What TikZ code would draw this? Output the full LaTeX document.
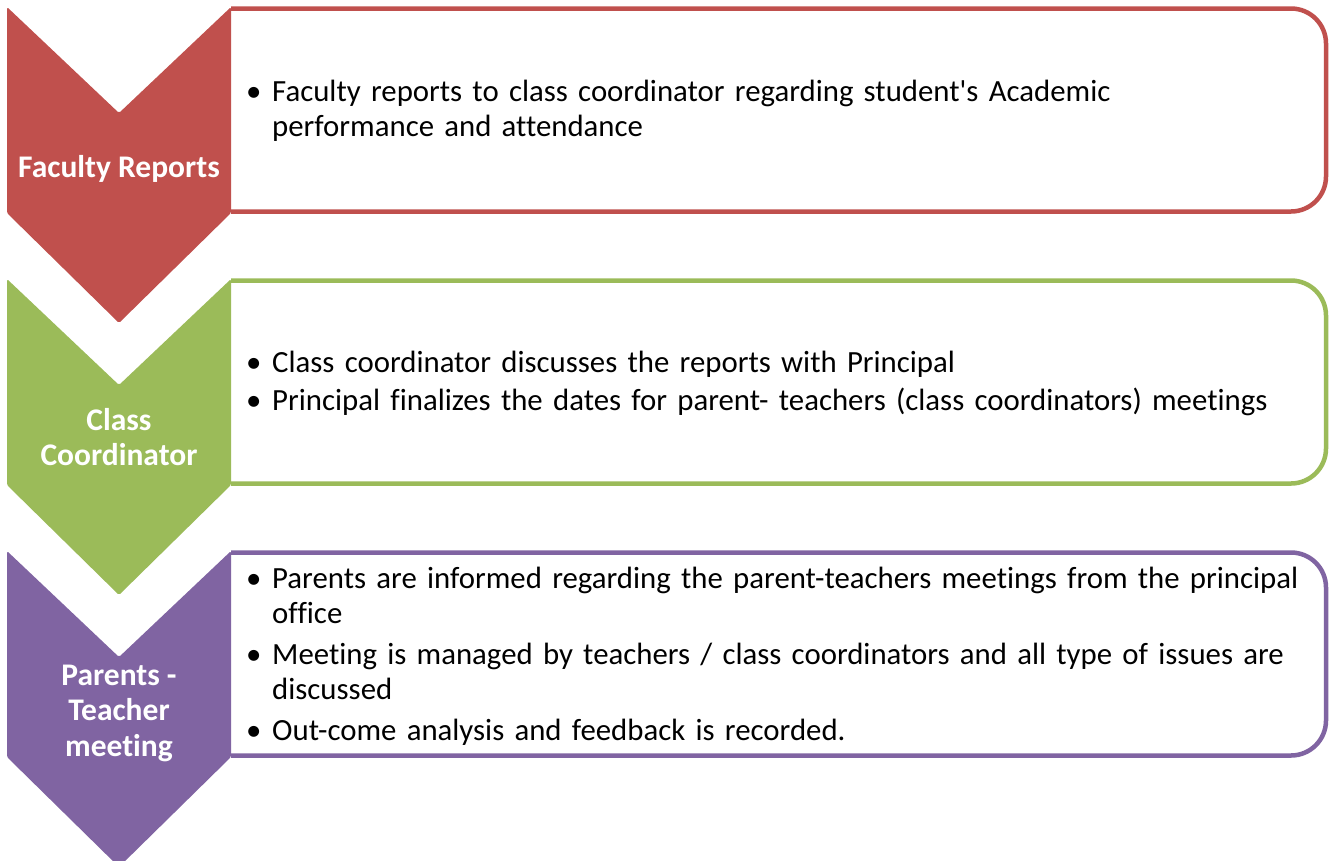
\documentclass[tikz,border=0pt]{standalone}
\usepackage{fontspec}
\setmainfont{Carlito}[Ligatures={NoCommon,NoContextual}]
\definecolor{stepred}{HTML}{C0504D}
\definecolor{stepgreen}{HTML}{9BBB59}
\definecolor{steppurple}{HTML}{8064A2}
\tikzset{
	chevron/.style={fill=#1, draw=none, rounded corners=1.5pt},
	listbox/.style={draw=#1, line width=4.5pt, fill=white, rounded corners=35pt},
	steplabel/.style={text=white, inner sep=0pt, align=center, font=\fontsize{31.5}{35.5}\selectfont\bfseries},
	bullets/.style={anchor=west, inner sep=0pt, text width=1080pt, align=left, font=\fontsize{30.8}{35.5}\selectfont},
}
\newcommand\bitem[1]{\hangindent=26pt\hangafter=1\noindent\makebox[26pt][l]{\textbullet}#1\par}
\begin{document}
	\begin{tikzpicture}[x=1pt, y=-1pt]
		\useasboundingbox (0,0) rectangle (1330,860);
		% Faculty reports
		\draw [listbox=stepred] (231,211.5) -- (1326,211.5) -- (1326,8.5) -- (231,8.5);
		\fill [chevron=stepred] (7,7) -- (119,113) -- (231,7) -- (231,213) -- (119,323) -- (7,213) -- cycle;
		\node (faculty) [steplabel] at (119,169) {Faculty Reports};
		\node (facultylist) [bullets] at (246,111) {\setlength\parskip{5pt}%
			\bitem{Faculty reports to class coordinator regarding student\textquotesingle s Academic\newline performance and attendance}};
		% Class coordinator
		\draw [listbox=stepgreen] (231,483.5) -- (1326,483.5) -- (1326,280.5) -- (231,280.5);
		\fill [chevron=stepgreen] (7,279) -- (119,385) -- (231,279) -- (231,485) -- (119,595) -- (7,485) -- cycle;
		\node (coord) [steplabel] at (119,437) {Class\\Coordinator};
		\node (coordlist) [bullets] at (246,383) {\setlength\parskip{2.5pt}%
			\bitem{Class coordinator discusses the reports with Principal}
			\bitem{Principal finalizes the dates for parent- teachers (class coordinators) meetings}};
		% Parents - teacher meeting
		\draw [listbox=steppurple] (231,755.5) -- (1326,755.5) -- (1326,552.5) -- (231,552.5);
		\fill [chevron=steppurple] (7,551) -- (119,657) -- (231,551) -- (231,757) -- (119,867) -- (7,757) -- cycle;
		\node (meeting) [steplabel] at (119,713) {Parents -\\Teacher\\meeting};
		\node (meetinglist) [bullets] at (246,656) {\setlength\parskip{5pt}%
			\bitem{Parents are informed regarding the parent-teachers meetings from the principal\newline office}
			\bitem{Meeting is managed by teachers / class coordinators and all type of issues are\newline discussed}
			\bitem{Out-come analysis and feedback is recorded.}};
	\end{tikzpicture}
\end{document}
